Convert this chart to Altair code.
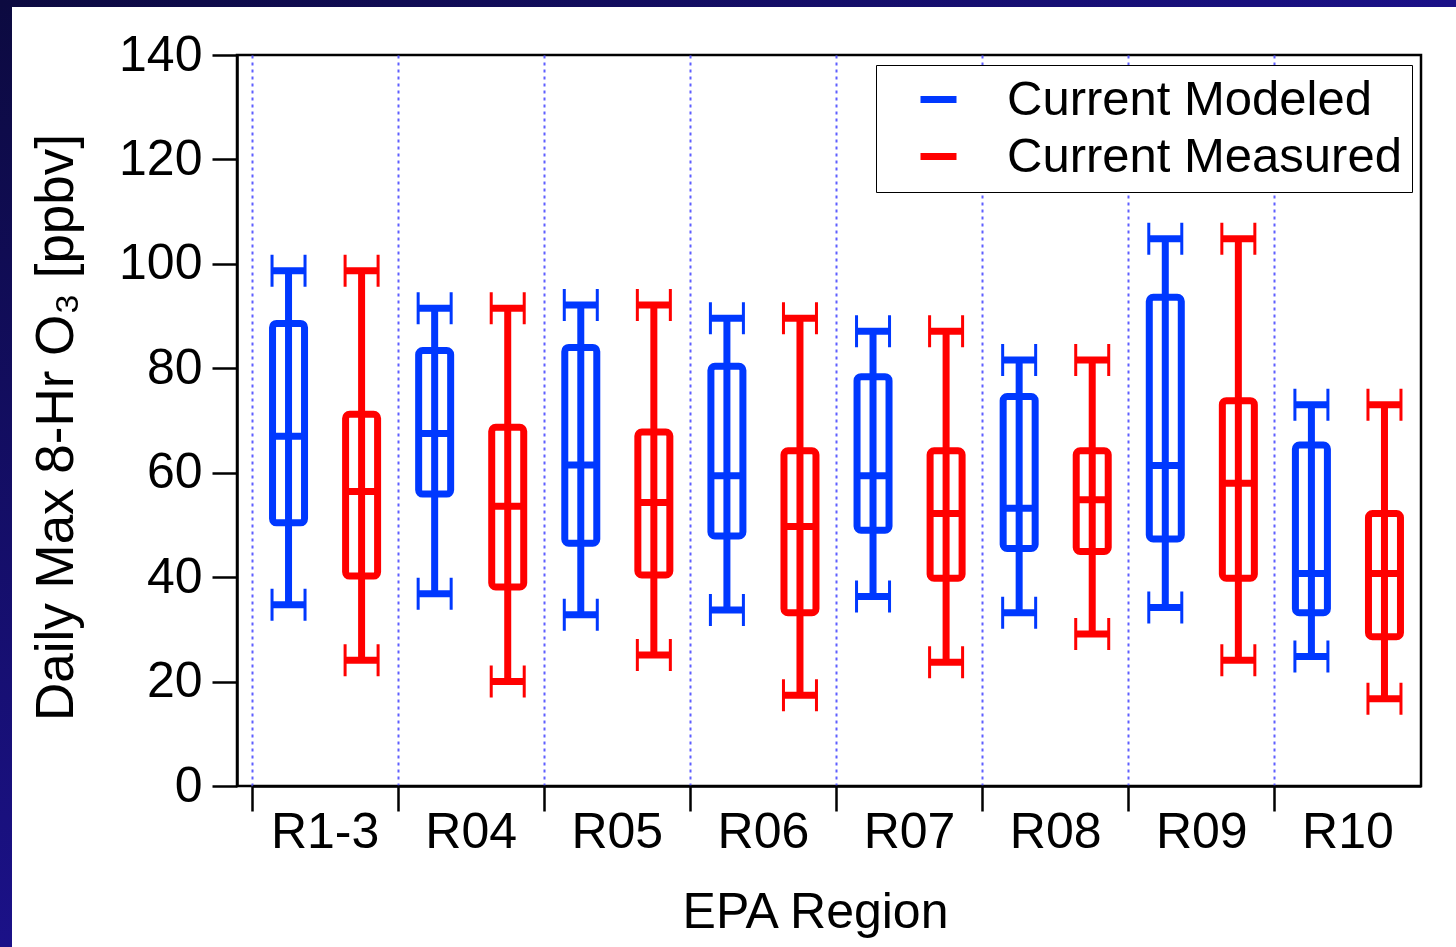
import altair as alt
import pandas as pd

# EPA regions on the x axis
regions = ["R1-3", "R04", "R05", "R06", "R07", "R08", "R09", "R10"]
series = ["Current Modeled", "Current Measured"]

# Box-and-whisker statistics, daily max 8-hr O3 (ppbv)
modeled_low = [34.7, 36.8, 32.8, 33.7, 36.3, 33.2, 34.2, 24.8]
modeled_q1 = [50.4, 55.9, 46.5, 47.9, 49.0, 45.5, 47.3, 33.2]
modeled_median = [67.0, 67.5, 61.5, 59.4, 59.4, 53.2, 61.4, 40.7]
modeled_q3 = [88.6, 83.4, 84.0, 80.4, 78.4, 74.6, 93.6, 65.3]
modeled_high = [98.7, 91.5, 92.1, 89.6, 87.1, 81.6, 104.8, 73.0]

measured_low = [24.1, 20.0, 25.1, 17.4, 23.7, 29.1, 24.1, 16.7]
measured_q1 = [40.2, 38.1, 40.4, 33.2, 39.8, 44.9, 39.8, 28.6]
measured_median = [56.4, 53.6, 54.3, 49.7, 52.2, 54.8, 58.0, 40.7]
measured_q3 = [71.2, 68.7, 67.8, 64.2, 64.2, 64.2, 73.8, 52.2]
measured_high = [98.7, 91.5, 92.1, 89.6, 87.1, 81.6, 104.8, 73.0]

y_ticks = [0, 20, 40, 60, 80, 100, 120, 140]

rows = []
for i, r in enumerate(regions):
    rows.append(dict(region=r, series=series[0], low=modeled_low[i], q1=modeled_q1[i],
                     median=modeled_median[i], q3=modeled_q3[i], high=modeled_high[i]))
    rows.append(dict(region=r, series=series[1], low=measured_low[i], q1=measured_q1[i],
                     median=measured_median[i], q3=measured_q3[i], high=measured_high[i]))
df = pd.DataFrame(rows)

FONT = "Liberation Sans"
W, H = 1184, 731

x_enc = alt.X(
    "region:N",
    sort=regions,
    scale=alt.Scale(range=[15, W], paddingInner=0, paddingOuter=0),
    axis=alt.Axis(
        title="EPA Region",
        bandPosition=0,
        labelAngle=0,
        labelBaseline="alphabetic",
        labelPadding=36,
        tickSize=25,
        grid=True,
        gridDash=[3, 4],
        gridColor="#5f5fff",
        gridWidth=2,
        titleX=578,
        titleY=141,
        titleAlign="center",
        titleBaseline="alphabetic",
    ),
)
xoff_enc = alt.XOffset("series:N", sort=series,
                       scale=alt.Scale(paddingInner=0, paddingOuter=0))
color_enc = alt.Color(
    "series:N",
    sort=series,
    scale=alt.Scale(domain=series, range=["#0038ff", "#ff0000"]),
    legend=alt.Legend(
        title=None,
        orient="none",
        legendX=639,
        legendY=10,
        symbolType="stroke",
        symbolSize=1296,
        symbolStrokeWidth=7,
        symbolOffset=28,
        labelOffset=44,
        labelLimit=0,
        padding=10,
        rowPadding=7,
        labelFontSize=49,
        labelFont=FONT,
        labelColor="black",
        strokeColor="black",
        fillColor="white",
    ),
)
y_scale = alt.Scale(domain=[0, 140], nice=False, zero=True)
y_axis = alt.Axis(
    title="Daily Max 8-Hr O₃ [ppbv]",
    values=y_ticks,
    grid=False,
    tickSize=25,
    labelPadding=10,
    titleAngle=270,
    titleX=-165,
    titleY=372,
    titleAlign="center",
    titleBaseline="alphabetic",
    titleFontSize=53,
)

base = alt.Chart(df).encode(x=x_enc, xOffset=xoff_enc, color=color_enc)

whisker = base.mark_rule(strokeWidth=7, opacity=1).encode(
    y=alt.Y("low:Q", scale=y_scale, axis=y_axis), y2="high:Q"
)
box = base.mark_bar(filled=False, size=32, strokeWidth=7, cornerRadius=4,
                    opacity=1).encode(y="q1:Q", y2="q3:Q")
median = base.mark_tick(size=32, thickness=7, opacity=1).encode(y="median:Q")
cap_low = base.mark_tick(size=33, thickness=7, opacity=1).encode(y="low:Q")
cap_high = base.mark_tick(size=33, thickness=7, opacity=1).encode(y="high:Q")
end_shape = "M-1,-0.97V0.97M1,-0.97V0.97"
ends_low = base.mark_point(shape=end_shape, size=1089, strokeWidth=3,
                           filled=False, opacity=1).encode(y="low:Q")
ends_high = base.mark_point(shape=end_shape, size=1089, strokeWidth=3,
                            filled=False, opacity=1).encode(y="high:Q")

# Dark slide border along the top and left edges of the page
frame_data = alt.Data(values=[{"k": 1}])
navy = alt.LinearGradient(
    gradient="linear",
    stops=[alt.GradientStop(color="#0c0a40", offset=0),
           alt.GradientStop(color="#1b1188", offset=1)],
    x1=0, x2=0, y1=0, y2=1,
)
navy_h = alt.LinearGradient(
    gradient="linear",
    stops=[alt.GradientStop(color="#0c0a40", offset=0),
           alt.GradientStop(color="#1b1188", offset=1)],
    x1=0, x2=1, y1=0, y2=0,
)
left_band = alt.Chart(frame_data).mark_rect(color=navy).encode(
    x=alt.value(-237), x2=alt.value(-225), y=alt.value(-55), y2=alt.value(892)
)
top_band = alt.Chart(frame_data).mark_rect(color=navy_h).encode(
    x=alt.value(-237), x2=alt.value(1219), y=alt.value(-55), y2=alt.value(-48)
)

chart = (
    alt.layer(whisker, box, median, cap_low, cap_high, ends_low, ends_high,
              left_band, top_band)
    .properties(
        width=W,
        height=H,
        autosize=alt.AutoSizeParams(type="none"),
        padding={"left": 237, "top": 55, "right": 35, "bottom": 161},
        background="white",
    )
    .configure_view(stroke="black", strokeWidth=2.5)
    .configure_axis(
        labelFont=FONT,
        titleFont=FONT,
        labelFontSize=50,
        titleFontSize=50,
        labelColor="black",
        titleColor="black",
        titleFontWeight="normal",
        domainColor="black",
        domainWidth=2.5,
        tickColor="black",
        tickWidth=2.5,
    )
)

chart.save("out.html", embed_options={"renderer": "svg", "actions": False})
